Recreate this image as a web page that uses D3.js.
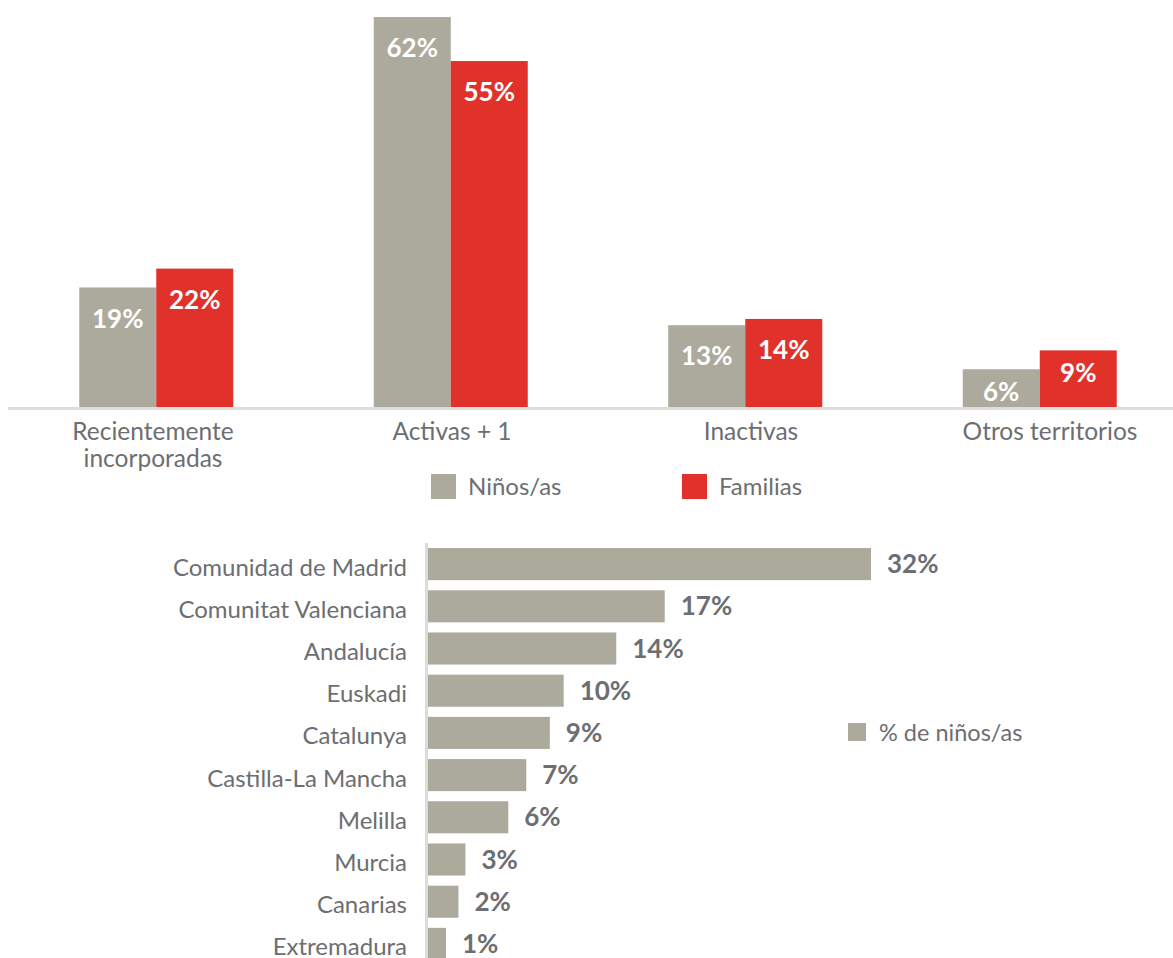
<!DOCTYPE html>
<html>
<head>
<meta charset="utf-8">
<script src="https://cdn.jsdelivr.net/npm/d3@7"></script>
<style>
  body { margin: 0; background: #fff; }
  svg { display: block; font-family: Lato, "Open Sans", sans-serif; }
</style>
</head>
<body>
<svg id="chart" width="1173" height="958"></svg>
<script>
const GRAY = '#acaa9c'
const RED = '#e0322a'
const TEXT = '#6d6e71'

// top chart data
const groups = ['Recientemente incorporadas', 'Activas + 1', 'Inactivas', 'Otros territorios']
const seriesNames = ['Niños/as', 'Familias']
const ninos = [19, 62, 13, 6]
const familias = [22, 55, 14, 9]

// bottom chart data
const regions = ['Comunidad de Madrid', 'Comunitat Valenciana', 'Andalucía', 'Euskadi', 'Catalunya',
  'Castilla-La Mancha', 'Melilla', 'Murcia', 'Canarias', 'Extremadura']
const regionValues = [32, 17.1, 13.6, 9.8, 8.8, 7.1, 5.8, 2.7, 2.2, 1.3]
const regionLabels = ['32%', '17%', '14%', '10%', '9%', '7%', '6%', '3%', '2%', '1%']
const regionSeries = '% de niños/as'

const svg = d3.select('#chart')

const drawTop = () => {
  const baseline = 407
  const x0 = d3.scaleBand().domain(groups).range([9, 1187]).paddingInner(0.477).paddingOuter(0.2385)
  const x1 = d3.scaleBand().domain(seriesNames).range([0, x0.bandwidth()])
  // category labels sit on a slightly wider spacing than the bars
  const xLabel = d3.scalePoint().domain(groups).range([153, 1050])
  const y = d3.scaleLinear().domain([0, 62]).range([baseline, 17])
  const color = d3.scaleOrdinal().domain(seriesNames).range([GRAY, RED])

  const rows = groups.map((g, i) => ({group: g, values: [
    {key: seriesNames[0], value: ninos[i]},
    {key: seriesNames[1], value: familias[i]}
  ]}))

  const g = svg.append('g')
  const grp = g.selectAll('g.grp')
    .data(rows)
    .enter()
    .append('g')
    .attr('transform', (d) => 'translate(' + x0(d.group) + ',0)')

  grp.selectAll('rect')
    .data((d) => d.values)
    .enter()
    .append('rect')
    .attr('x', (d) => x1(d.key))
    .attr('width', x1.bandwidth())
    .attr('y', (d) => y(d.value))
    .attr('height', (d) => baseline - y(d.value))
    .attr('fill', (d) => color(d.key))

  // short bars get their label a bit higher up
  grp.selectAll('text.val')
    .data((d) => d.values)
    .enter()
    .append('text')
    .attr('class', 'val')
    .attr('x', (d) => x1(d.key) + x1.bandwidth() / 2)
    .attr('y', (d) => y(d.value) + (baseline - y(d.value) < 60 ? 23 : 31))
    .attr('dy', '0.35em')
    .attr('text-anchor', 'middle')
    .attr('fill', '#fff')
    .attr('font-size', 26)
    .attr('font-weight', 'bold')
    .text((d) => d.value + '%')

  // axis line
  g.append('line')
    .attr('x1', 8).attr('x2', 1173)
    .attr('y1', baseline + 1.5).attr('y2', baseline + 1.5)
    .attr('stroke', '#dcdcdc')
    .attr('stroke-width', 3)

  // category labels
  const labels = g.selectAll('text.cat')
    .data(groups)
    .enter()
    .append('text')
    .attr('class', 'cat')
    .attr('x', (d) => xLabel(d))
    .attr('y', 440)
    .attr('text-anchor', 'middle')
    .attr('fill', TEXT)
    .attr('font-size', 24.5)
  labels.each(function (d) {
    const words = d === 'Recientemente incorporadas' ? d.split(' ') : [d]
    d3.select(this).selectAll('tspan')
      .data(words)
      .enter()
      .append('tspan')
      .attr('x', xLabel(d))
      .attr('dy', (w, i) => i === 0 ? 0 : 27)
      .text((w) => w)
  })

  // legend
  const legendX = [431, 682]
  const leg = g.selectAll('g.leg')
    .data(seriesNames)
    .enter()
    .append('g')
    .attr('transform', (d, i) => 'translate(' + legendX[i] + ',474)')
  leg.append('rect')
    .attr('width', 25).attr('height', 25)
    .attr('fill', (d) => color(d))
  leg.append('text')
    .attr('x', 37).attr('y', 13)
    .attr('dy', '0.35em')
    .attr('fill', TEXT)
    .attr('font-size', 24)
    .text((d) => d)
}

const drawBottom = () => {
  const x = d3.scaleLinear().domain([0, 32]).range([428, 871])
  const y = d3.scaleBand().domain(regions).range([543, 965]).paddingInner(0.24).paddingOuter(0.12)
  const data = regions.map((r, i) => ({region: r, value: regionValues[i], label: regionLabels[i]}))

  const g = svg.append('g')
  g.selectAll('rect')
    .data(data)
    .enter()
    .append('rect')
    .attr('x', x(0))
    .attr('y', (d) => y(d.region))
    .attr('width', (d) => x(d.value) - x(0))
    .attr('height', y.bandwidth())
    .attr('fill', GRAY)

  g.selectAll('text.val')
    .data(data)
    .enter()
    .append('text')
    .attr('class', 'val')
    .attr('x', (d) => x(d.value) + 16)
    .attr('y', (d) => y(d.region) + y.bandwidth() / 2)
    .attr('dy', '0.35em')
    .attr('fill', TEXT)
    .attr('font-size', 26)
    .attr('font-weight', 'bold')
    .text((d) => d.label)

  g.selectAll('text.cat')
    .data(regions)
    .enter()
    .append('text')
    .attr('class', 'cat')
    .attr('x', 407)
    .attr('y', (d) => y(d) + y.bandwidth() / 2 + 3)
    .attr('dy', '0.35em')
    .attr('text-anchor', 'end')
    .attr('fill', TEXT)
    .attr('font-size', 24)
    .text((d) => d)

  g.append('line')
    .attr('x1', 426.5).attr('x2', 426.5)
    .attr('y1', 543).attr('y2', 958)
    .attr('stroke', '#dcdcdc')
    .attr('stroke-width', 3)

  const leg = g.append('g').attr('transform', 'translate(848,723)')
  leg.append('rect').attr('width', 18).attr('height', 18).attr('fill', GRAY)
  leg.append('text')
    .attr('x', 31).attr('y', 10)
    .attr('dy', '0.35em')
    .attr('fill', TEXT)
    .attr('font-size', 23.5)
    .text(regionSeries)
}

drawTop()
drawBottom()
</script>
</body>
</html>
